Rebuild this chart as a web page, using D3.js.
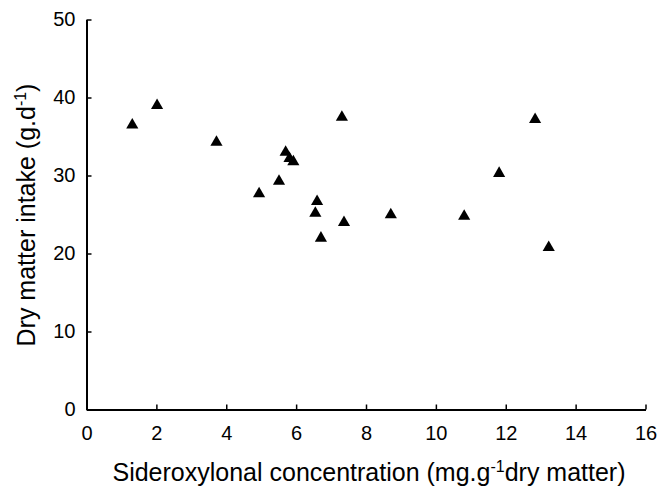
<!DOCTYPE html>
<html><head><meta charset="utf-8">
<script src="https://cdn.jsdelivr.net/npm/d3@7"></script>
<style>body{margin:0;background:#fff}svg{display:block}text{font-family:"Liberation Sans",Arial,sans-serif;fill:#000}</style>
</head><body><svg id="c" width="658" height="491"></svg>
<script>
const sideroxylonal = [1.31, 2.02, 3.72, 5.70, 5.81, 5.92, 5.51, 4.94, 6.60, 6.55, 6.71, 7.31, 7.37, 8.71, 10.81, 11.81, 12.84, 13.23];
const intake        = [36.6, 39.1, 34.4, 33.1, 32.3, 31.9, 29.4, 27.8, 26.8, 25.3, 22.1, 37.6, 24.1, 25.1, 24.9, 30.4, 37.3, 20.9];
const xTicks = [0, 2, 4, 6, 8, 10, 12, 14, 16];
const yTicks = [0, 10, 20, 30, 40, 50];

const svg = d3.select("#c");
const x = d3.scaleLinear().domain([0, 16]).range([86.5, 645.5]);
const y = d3.scaleLinear().domain([0, 50]).range([409.5, 19.5]);
const fs = 20;

const xAxis = svg.append("g").attr("transform", `translate(0,${y(0)})`)
  .call(d3.axisBottom(x).tickValues(xTicks).tickSize(-5).tickPadding(16).tickSizeOuter(0));
const yAxis = svg.append("g").attr("transform", `translate(${x(0)},0)`)
  .call(d3.axisLeft(y).tickValues(yTicks).tickSize(-5).tickPadding(11).tickSizeOuter(0));
[xAxis, yAxis].forEach(a => {
  a.attr("font-size", fs).attr("font-family", "Liberation Sans, Arial, sans-serif");
  a.selectAll("path.domain").attr("stroke", "#000").attr("stroke-width", 2);
  a.selectAll(".tick line").attr("stroke", "#000").attr("stroke-width", 1.5);
  a.selectAll("text").attr("font-size", fs);
});

const tri = d3.symbol().type(d3.symbolTriangle).size(64);
svg.append("g").selectAll("path").data(sideroxylonal.map((v, i) => [v, intake[i]]))
  .join("path")
  .attr("d", tri)
  .attr("transform", d => `translate(${x(d[0])},${y(d[1]) + 1})`)
  .attr("fill", "#000");

const tfs = 25;
const xt = svg.append("text").attr("x", 369).attr("y", 481).attr("text-anchor", "middle").attr("font-size", tfs);
xt.append("tspan").text("Sideroxylonal concentration (mg.g");
xt.append("tspan").attr("dy", -9).attr("font-size", 16).text("-1");
xt.append("tspan").attr("dy", 9).text("dry matter)");

const yt = svg.append("text").attr("transform", "translate(35,215) rotate(-90)").attr("text-anchor", "middle").attr("font-size", tfs);
yt.append("tspan").text("Dry matter intake (g.d");
yt.append("tspan").attr("dy", -9).attr("font-size", 16).text("-1");
yt.append("tspan").attr("dy", 9).text(")");
</script></body></html>
